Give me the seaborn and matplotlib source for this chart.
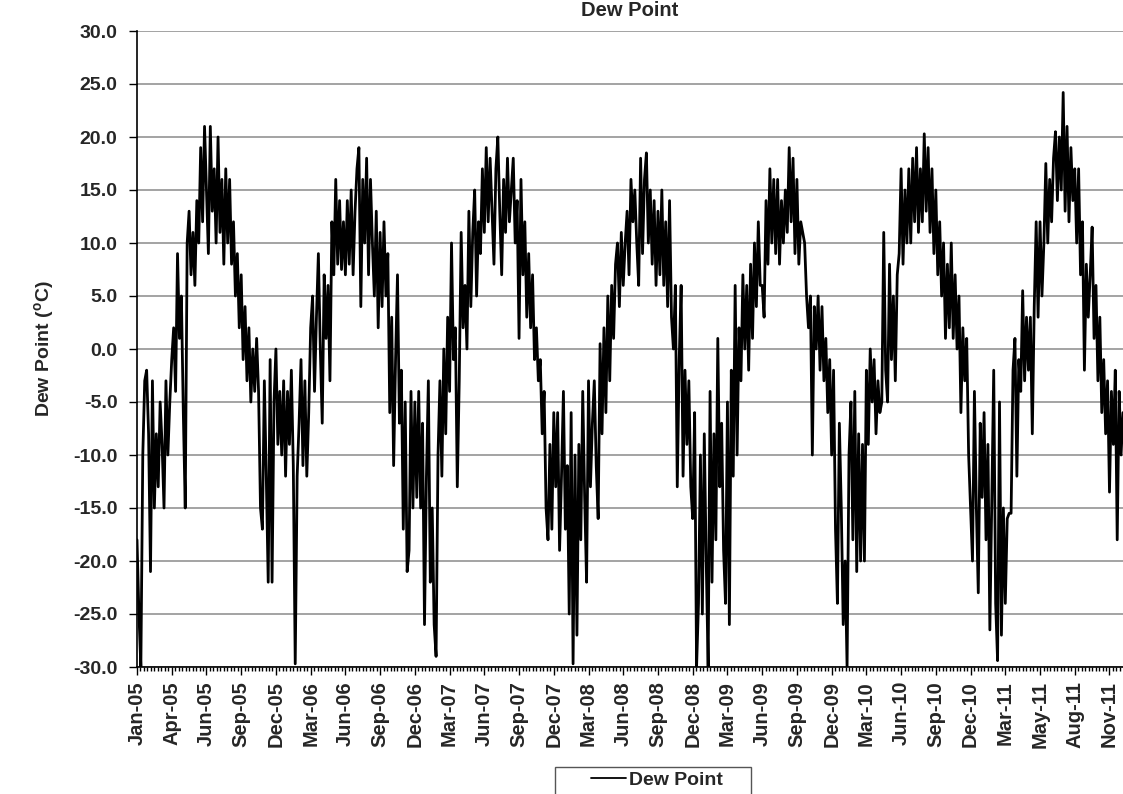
import numpy as np
import pandas as pd
import matplotlib
matplotlib.use("Agg")
import matplotlib.pyplot as plt
import matplotlib.dates as mdates
from matplotlib.ticker import FixedLocator, FormatStrFormatter
from matplotlib.patches import Rectangle
from matplotlib.lines import Line2D
import seaborn as sns

# Dew point series (°C), one reading every 5 days from 1 Jan 2005
start_date = "2005-01-01"
end_date = "2011-12-31"
step_days = 5
dew_point = [
    # 2005
    -18, -25, -30, -10, -3, -2, -8, -21, -3, -15, -8, -13, -5, -9, -15, -3,
    -10, -5, -1, 2, -4, 9, 1, 5, -6, -15, 10, 13, 7, 11, 6, 14,
    10, 19, 12, 21, 15, 9, 21, 13, 17, 10, 20, 11, 16, 8, 17, 10,
    16, 8, 12, 5, 9, 2, 7, -1, 4, -3, 2, -5, 0, -4, 1, -4,
    -15, -17, -3, -12, -22, -1, -22, -5, 0, -9, -4, -10, -3, -12, -4, -9,
    # 2006
    -2, -11, -29.7, -12, -7, -1, -11, -3, -12, -6, 2, 5, -4, 3, 9, 0,
    -7, 7, 1, 6, -3, 12, 7, 16, 8, 14, 7.5, 12, 7, 14, 8, 15,
    7, 13, 17, 19, 4, 16, 10, 18, 7, 16, 10, 5, 13, 2, 11, 4,
    12, 5, 9, -6, 3, -11, -1, 7, -7, -2, -17, -5, -21, -19, -4, -15,
    # 2007
    -5, -14, -4, -15, -7, -26, -12, -3, -22, -15, -26, -29, -10, -3, -12, 0,
    -8, 3, -4, 10, -1, 2, -13, -3, 11, 2, 6, 0, 13, 4, 11, 15,
    5, 12, 9, 17, 11, 19, 12, 18, 13, 8, 17, 20, 13, 7, 16, 11,
    18, 12, 15, 18, 10, 14, 1, 16, 7, 12, 3, 9, 2, 7, -1, 2,
    # 2008
    -3, -1, -8, -4, -15, -18, -9, -17, -6, -13, -6, -19, -12, -4, -17, -11,
    -25, -6, -29.7, -10, -27, -9, -18, -4, -14, -22, -3, -13, -7, -3, -11, -16,
    0.5, -8, 2, -6, 5, -3, 6, 1, 8, 10, 4, 11, 6, 10, 13, 7,
    16, 12, 15, 10, 6, 18, 9, 16, 18.5, 10, 15, 8, 14, 6, 13, 7,
    15, 6, 12, 4, 14, 3, 0, 6, -13, -1, 6, -12, -2, -9, -3, -13,
    # 2009
    -16, -6, -30, -24, -10, -25, -8, -20, -30, -4, -22, -8, -18, 1, -13, -7,
    -19, -24, -5, -26, -2, -12, 6, -10, 2, -3, 7, 0, 6, -2, 8, 1,
    10, 4, 12, 6, 6, 3, 14, 8, 17, 10, 16, 9, 16, 8, 14, 10,
    15, 11, 19, 12, 18, 9, 16, 8, 12, 11, 10, 5, 2, 5, -10, 4,
    0, 5, -2, 4, -3, 1, -6, -1, -10, -2, -17, -24, -7, -15, -26, -20,
    # 2010
    -30, -10, -5, -18, -4, -21, -8, -20, -9, -20, -2, -9, 0, -5, -1, -8,
    -3, -6, -5, 11, -2, -5, 8, -1, 5, -3, 7, 9, 17, 8, 15, 10,
    17, 10, 18, 12, 19, 11, 17, 12, 20.3, 13, 19, 11, 17, 9, 15, 7,
    12, 5, 10, 1, 8, 2, 10, 1, 7, 0, 5, -6, 2, -3, 1, -10,
    -15, -20, -4, -15, -23, -7, -14, -6, -18, -9, -26.5, -14, -2, -24, -29.4, -5,
    # 2011
    -27, -15, -24, -16, -15.5, -15.5, -2, 1, -12, -1, -4, 5.5, -3, 3, -2, 3,
    -8, 4, 12, 3, 12, 5, 10, 17.5, 10, 16, 12, 18, 20.5, 14, 20, 15,
    24.2, 13, 21, 12, 19, 14, 17, 10, 17, 7, 12, -2, 8, 3, 7, 11.5,
    1, 6, -3, 3, -6, -1, -8, -3, -13.5, -4, -9, -2, -18, -4, -10, -6,
]
y_ticks = list(range(-30, 31, 5))
x_major_step_days = 90
x_minor_step_days = 9
chart_title = "Dew Point"
y_label = "Dew Point ($^{o}$C)"
series_name = "Dew Point"

sns.set_style("white")
plt.rcParams["font.family"] = ["Liberation Sans", "DejaVu Sans"]
plt.rcParams["font.weight"] = "bold"
plt.rcParams["mathtext.default"] = "regular"

dates = pd.date_range(start_date, periods=len(dew_point), freq=f"{step_days}D")
df = pd.DataFrame({"Date": dates, series_name: dew_point})

W, H = 1123, 794
fig = plt.figure(figsize=(W / 100, H / 100), dpi=100)
ax = fig.add_axes([137 / W, 1 - 667 / H, (W - 137) / W, (667 - 31) / H])

sns.lineplot(data=df, x="Date", y=series_name, color="black", lw=2.0,
             ax=ax, legend=False)

# y axis
ax.set_ylim(-30, 30)
ax.yaxis.set_major_locator(FixedLocator(y_ticks))
ax.yaxis.set_major_formatter(FormatStrFormatter("%.1f"))
ax.grid(axis="y", color="#8a8a8a", lw=1.1)
ax.grid(axis="x", visible=False)
ax.set_axisbelow(True)

# x axis: labels every 90 days, small ticks in between
x0 = pd.Timestamp(start_date)
x1 = pd.Timestamp(end_date)
ax.set_xlim(x0, x1)
major = pd.date_range(x0, x1, freq=f"{x_major_step_days}D")
minor = pd.date_range(x0, x1, freq=f"{x_minor_step_days}D")
ax.xaxis.set_major_locator(FixedLocator(mdates.date2num(major)))
ax.xaxis.set_minor_locator(FixedLocator(mdates.date2num(minor)))
ax.xaxis.set_major_formatter(mdates.DateFormatter("%b-%y"))

ax.tick_params(axis="x", which="major", bottom=True, direction="out",
               length=6, width=1, color="black", labelsize=14.5,
               labelrotation=90, pad=4)
ax.tick_params(axis="x", which="minor", bottom=True, direction="out",
               length=3, width=1, color="black")
ax.tick_params(axis="y", which="major", left=True, direction="out",
               length=6, width=1, color="black", labelsize=14, pad=8)

for side in ("top", "right"):
    ax.spines[side].set_visible(False)
for side in ("left", "bottom"):
    ax.spines[side].set_color("black")
    ax.spines[side].set_linewidth(1.2)

ax.set_xlabel("")
ax.set_ylabel(y_label, fontsize=14, fontweight="bold")
ax.yaxis.set_label_coords(-0.082, 0.5)

fig.text(630 / W, 1 - 11 / H, chart_title, ha="center", va="center",
         fontsize=14.5, fontweight="bold")

# legend box sits at the bottom edge of the figure
fig.add_artist(Rectangle((555 / W, -0.02), (751 - 555) / W, (794 - 767) / H + 0.02,
                         transform=fig.transFigure, fill=False,
                         ec="#555555", lw=1))
handle = Line2D([], [], color="black", lw=1.3)
fig.legend([handle], [series_name], loc="center",
           bbox_to_anchor=(657 / W, 1 - 780 / H), frameon=False,
           fontsize=14, handlelength=1.8, handletextpad=0.15,
           borderpad=0, prop={"weight": "bold", "size": 14})

fig.savefig("out.png", dpi=100)
